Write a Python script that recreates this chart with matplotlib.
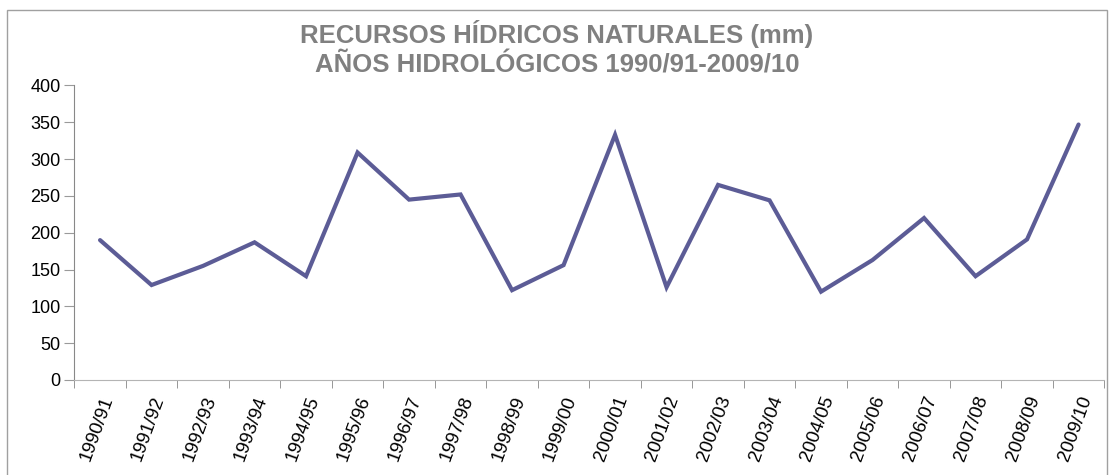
import numpy as np
import matplotlib.pyplot as plt
from matplotlib.patches import Rectangle

# datos
years = ['1990/91', '1991/92', '1992/93', '1993/94', '1994/95', '1995/96', '1996/97',
         '1997/98', '1998/99', '1999/00', '2000/01', '2001/02', '2002/03', '2003/04',
         '2004/05', '2005/06', '2006/07', '2007/08', '2008/09', '2009/10']
recursos_mm = [190, 129, 155, 187, 141, 309, 245, 252, 122, 156,
               333, 126, 265, 244, 120, 163, 220, 141, 191, 347]
yticks = [0, 50, 100, 150, 200, 250, 300, 350, 400]

plt.rcParams['font.family'] = ['Liberation Sans', 'DejaVu Sans']

fig = plt.figure(figsize=(11.14, 4.75), dpi=100)
ax = fig.add_axes([0.0667, 0.2, 0.9246, 0.62])

x = np.arange(len(years))
ax.plot(x, recursos_mm, color='#5c5c96', linewidth=3,
        solid_joinstyle='miter', solid_capstyle='round')

ax.set_xlim(-0.5, len(years) - 0.5)
ax.set_ylim(0, 400)
ax.set_yticks(yticks)
ax.set_yticklabels([str(v) for v in yticks], fontsize=13)

# etiquetas en las categorias, marcas entre categorias
ax.set_xticks(x)
ax.set_xticklabels(years, rotation=70, ha='right', va='top', rotation_mode='anchor', fontsize=13.5)
ax.tick_params(axis='x', which='major', length=0, pad=10)
ax.set_xticks(np.arange(-0.5, len(years)), minor=True)
ax.tick_params(axis='x', which='minor', length=6, color='#868686')
ax.tick_params(axis='y', length=7, color='#9a9a9a', pad=3)

for s in ['top', 'right']:
    ax.spines[s].set_visible(False)
ax.spines['left'].set_color('#888888')
ax.spines['bottom'].set_color('#b4b4b4')

# titulo
fig.text(0.5, 0.928, 'RECURSOS HÍDRICOS NATURALES (mm)', ha='center', va='center',
         fontsize=18.5, fontweight='bold', color='#808080')
fig.text(0.5, 0.862, 'AÑOS HIDROLÓGICOS 1990/91-2009/10', ha='center', va='center',
         fontsize=18.5, fontweight='bold', color='#808080')

# borde del grafico
fig.patches.append(Rectangle((7 / 1114, -0.01), 1100 / 1114, 1 - 10 / 475 + 0.01,
                             transform=fig.transFigure, fill=False,
                             edgecolor='#a0a0a0', linewidth=1))

fig.savefig('out.png', dpi=100)
